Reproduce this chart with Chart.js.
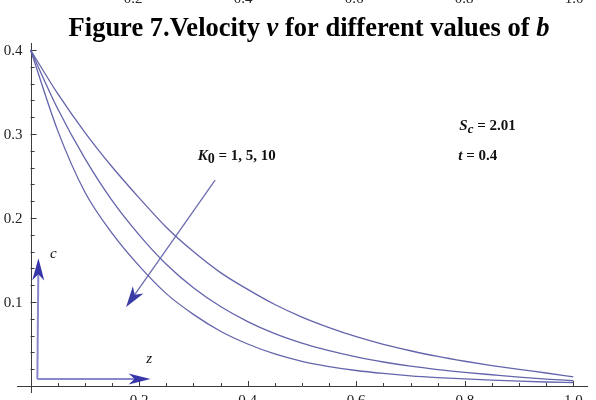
<!DOCTYPE html>
<html>
<head>
<meta charset="utf-8">
<script src="https://cdn.jsdelivr.net/npm/chart.js@4"></script>
<style>
  html, body { margin: 0; padding: 0; background: #ffffff; overflow: hidden; }
  canvas { display: block; }
</style>
</head>
<body>
<canvas id="chart" width="596" height="400"></canvas>
<script>
// Distance z and concentration profiles for three values of K0
const zValues = [0, 0.05, 0.10, 0.15, 0.20, 0.25, 0.30, 0.35, 0.40, 0.45, 0.50,
                 0.55, 0.60, 0.65, 0.70, 0.75, 0.80, 0.85, 0.90, 0.95, 1.00];
const profileK1  = [0.400, 0.348, 0.302, 0.261, 0.224, 0.189, 0.160, 0.135, 0.115, 0.097, 0.082,
                    0.0695, 0.0587, 0.0496, 0.0420, 0.0352, 0.0295, 0.0244, 0.0199, 0.0155, 0.0110];
const profileK5  = [0.400, 0.330, 0.271, 0.221, 0.180, 0.145, 0.117, 0.0946, 0.0767, 0.0623, 0.0510,
                    0.0420, 0.0346, 0.0286, 0.0236, 0.0196, 0.0163, 0.0134, 0.0106, 0.0083, 0.0063];
const profileK10 = [0.400, 0.304, 0.231, 0.182, 0.143, 0.110, 0.0853, 0.0652, 0.0500, 0.0382, 0.0294,
                    0.0232, 0.0185, 0.0150, 0.0122, 0.0101, 0.0084, 0.0070, 0.0058, 0.0048, 0.0040];

// Axis tick labels
const xTickLabels = ['0.2', '0.4', '0.6', '0.8', '1.0'];
const yTickLabels = ['0.1', '0.2', '0.3', '0.4'];
const xMinorStep = 0.05;
const yMinorStep = 0.02;

// Bottom edge of the previous figure's axis labels, just above the caption
const previousFigureLabels = ['0.2', '0.4', '0.6', '0.8', '1.0'];
const previousFigureLabelX = [133, 243, 354, 464, 574];

const SERIF = '"Liberation Serif", "Times New Roman", serif';
const CURVE_COLOR = 'rgba(92, 92, 168, 0.95)';
const AXIS_COLOR = '#3c3c3c';

// Annotation placement, in data units (z, c)
const notes = {
  kArrow: { from: [0.340, 0.245], to: [0.176, 0.094] },
  cArrow: { from: [0.0125, 0.0083], to: [0.0145, 0.152] },
  zArrow: { from: [0.0125, 0.0083], to: [0.221, 0.0083] },
  cLabel: [0.036, 0.152],
  zLabel: [0.213, 0.027],
  kLabel: [0.308, 0.269],
  scLabel: [0.790, 0.305],
  tLabel: [0.788, 0.269]
};

function toPx(chart, pt) {
  return [chart.scales.x.getPixelForValue(pt[0]), chart.scales.y.getPixelForValue(pt[1])];
}

function drawArrow(ctx, p1, p2, lineColor, headColor, len, half, lw) {
  const a = Math.atan2(p2[1] - p1[1], p2[0] - p1[0]);
  const ca = Math.cos(a), sa = Math.sin(a);
  ctx.save();
  ctx.strokeStyle = lineColor;
  ctx.lineWidth = lw;
  ctx.lineCap = 'butt';
  ctx.beginPath();
  ctx.moveTo(p1[0], p1[1]);
  ctx.lineTo(p2[0] - len * 0.6 * ca, p2[1] - len * 0.6 * sa);
  ctx.stroke();
  const bx = p2[0] - len * ca, by = p2[1] - len * sa;
  const nx = -sa, ny = ca;
  ctx.fillStyle = headColor;
  ctx.beginPath();
  ctx.moveTo(p2[0], p2[1]);
  ctx.lineTo(bx + nx * half, by + ny * half);
  ctx.lineTo(p2[0] - len * 0.72 * ca, p2[1] - len * 0.72 * sa);
  ctx.lineTo(bx - nx * half, by - ny * half);
  ctx.closePath();
  ctx.fill();
  ctx.restore();
}

// Draws a run of styled pieces starting at x, on one baseline
function drawRuns(ctx, runs, x, y) {
  let cx = x;
  runs.forEach(r => {
    ctx.font = r.font;
    ctx.fillText(r.text, cx, y + (r.dy || 0));
    cx += ctx.measureText(r.text).width;
  });
  return cx;
}
function runsWidth(ctx, runs) {
  let w = 0;
  runs.forEach(r => { ctx.font = r.font; w += ctx.measureText(r.text).width; });
  return w;
}

const axesPlugin = {
  id: 'crossedAxes',
  beforeDatasetsDraw(chart) {
    const ctx = chart.ctx;
    const xs = chart.scales.x, ys = chart.scales.y;
    const x0 = xs.getPixelForValue(0), y0 = ys.getPixelForValue(0);
    ctx.save();
    ctx.strokeStyle = AXIS_COLOR;
    ctx.lineWidth = 1;
    // axis lines crossing at the origin
    ctx.beginPath();
    ctx.moveTo(xs.left, Math.round(y0) + 0.5);
    ctx.lineTo(xs.right, Math.round(y0) + 0.5);
    ctx.moveTo(Math.round(x0) + 0.5, ys.bottom);
    ctx.lineTo(Math.round(x0) + 0.5, ys.top);
    ctx.stroke();
    // x ticks, pointing up into the plot
    const xMajor = xTickLabels.map(parseFloat);
    ctx.beginPath();
    for (let i = 1; i * xMinorStep <= 1.0001; i++) {
      const v = i * xMinorStep;
      const isMajor = xMajor.some(m => Math.abs(m - v) < 1e-6);
      const px = Math.round(xs.getPixelForValue(v)) + 0.5;
      ctx.moveTo(px, y0);
      ctx.lineTo(px, y0 - (isMajor ? 5 : 3));
    }
    // y ticks, pointing right into the plot
    const yMajor = yTickLabels.map(parseFloat);
    for (let i = 1; i * yMinorStep <= 0.4001; i++) {
      const v = i * yMinorStep;
      const isMajor = yMajor.some(m => Math.abs(m - v) < 1e-6);
      const py = Math.round(ys.getPixelForValue(v)) + 0.5;
      ctx.moveTo(x0, py);
      ctx.lineTo(x0 + (isMajor ? 6 : 4), py);
    }
    ctx.stroke();
    // tick labels
    ctx.fillStyle = '#222';
    ctx.font = '15px ' + SERIF;
    ctx.textAlign = 'center';
    ctx.textBaseline = 'alphabetic';
    xTickLabels.forEach(l => {
      ctx.fillText(l, xs.getPixelForValue(parseFloat(l)), y0 + 19);
    });
    ctx.textAlign = 'right';
    ctx.textBaseline = 'middle';
    yTickLabels.forEach(l => {
      ctx.fillText(l, x0 - 8, ys.getPixelForValue(parseFloat(l)) + 1);
    });
    // previous figure's labels, cut by the top edge of the page
    ctx.textAlign = 'center';
    ctx.textBaseline = 'alphabetic';
    previousFigureLabels.forEach((l, i) => {
      ctx.fillText(l, previousFigureLabelX[i], 3);
    });
    ctx.restore();
  },
  afterDatasetsDraw(chart) {
    const ctx = chart.ctx;
    ctx.save();
    // caption
    const bold = 'bold 26.5px ' + SERIF, boldIt = 'italic bold 26.5px ' + SERIF;
    const title = [
      { text: 'Figure 7.Velocity ', font: bold },
      { text: 'v', font: boldIt },
      { text: ' for different values of ', font: bold },
      { text: 'b', font: boldIt }
    ];
    ctx.fillStyle = '#000';
    ctx.textAlign = 'left';
    ctx.textBaseline = 'alphabetic';
    const tw = runsWidth(ctx, title);
    drawRuns(ctx, title, 309 - tw / 2, 36);

    // arrows
    drawArrow(ctx, toPx(chart, notes.kArrow.from), toPx(chart, notes.kArrow.to),
              'rgba(100, 100, 170, 0.95)', '#3b3ba6', 21, 6.5, 1.3);
    drawArrow(ctx, toPx(chart, notes.cArrow.from), toPx(chart, notes.cArrow.to),
              'rgba(130, 130, 200, 0.95)', '#3636a8', 22, 6, 2);
    drawArrow(ctx, toPx(chart, notes.zArrow.from), toPx(chart, notes.zArrow.to),
              'rgba(130, 130, 200, 0.95)', '#3636a8', 22, 5.5, 2);

    // labels
    const f15b = 'bold 15px ' + SERIF, f15bi = 'italic bold 15px ' + SERIF;
    const f15i = 'italic 15px ' + SERIF;
    ctx.fillStyle = '#111';
    let p = toPx(chart, notes.cLabel);
    ctx.font = f15i; ctx.fillText('c', p[0], p[1]);
    p = toPx(chart, notes.zLabel);
    ctx.font = f15i; ctx.fillText('z', p[0], p[1]);
    p = toPx(chart, notes.kLabel);
    drawRuns(ctx, [
      { text: 'K', font: f15bi },
      { text: '0', font: 'bold 14px ' + SERIF, dy: 3 },
      { text: ' = 1, 5, 10', font: f15b }
    ], p[0], p[1]);
    p = toPx(chart, notes.scLabel);
    drawRuns(ctx, [
      { text: 'S', font: f15bi },
      { text: 'c', font: 'italic bold 13px ' + SERIF, dy: 3 },
      { text: ' = 2.01', font: f15b }
    ], p[0], p[1]);
    p = toPx(chart, notes.tLabel);
    drawRuns(ctx, [
      { text: 't', font: f15bi },
      { text: ' = 0.4', font: f15b }
    ], p[0], p[1]);
    ctx.restore();
  }
};

function series(values, label) {
  return {
    label: label,
    data: zValues.map((z, i) => ({ x: z, y: values[i] })),
    borderColor: CURVE_COLOR,
    borderWidth: 1.3,
    pointRadius: 0,
    showLine: true,
    fill: false,
    cubicInterpolationMode: 'monotone'
  };
}

new Chart(document.getElementById('chart'), {
  type: 'scatter',
  data: {
    datasets: [
      series(profileK1, 'K0 = 1'),
      series(profileK5, 'K0 = 5'),
      series(profileK10, 'K0 = 10')
    ]
  },
  options: {
    responsive: false,
    animation: false,
    devicePixelRatio: 1,
    layout: { padding: { left: 17, right: 8, top: 43, bottom: 7 } },
    plugins: { legend: { display: false }, tooltip: { enabled: false }, title: { display: false } },
    scales: {
      x: { type: 'linear', min: -0.025, max: 1.027, display: false },
      y: { type: 'linear', min: -0.0083, max: 0.4083, display: false }
    }
  },
  plugins: [axesPlugin]
});
</script>
</body>
</html>
